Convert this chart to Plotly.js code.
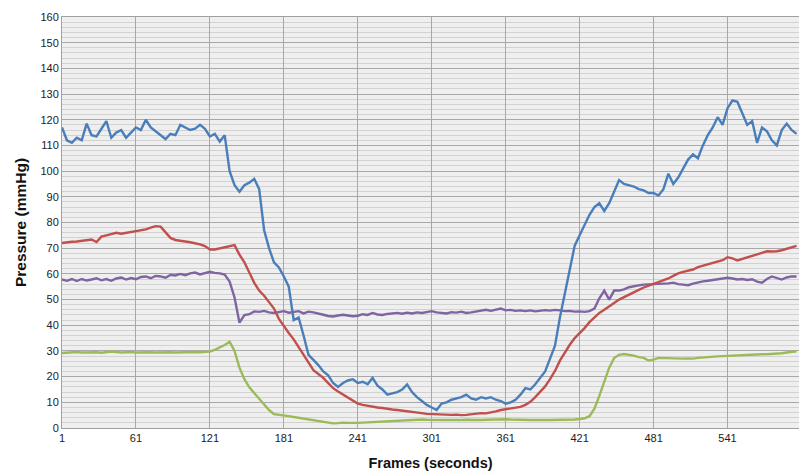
<!DOCTYPE html>
<html>
<head>
<meta charset="utf-8">
<script src="https://cdn.plot.ly/plotly-3.0.1.min.js"></script>
<style>html,body{margin:0;padding:0;background:#fff;}#chart{width:799px;height:473px;}</style>
</head>
<body>
<div id="chart"></div>
<script>
// Frame numbers (every 4th frame, 1..597)
const frames = [1,5,9,13,17,21,25,29,33,37,41,45,49,53,57,61,65,69,73,77,81,85,89,93,97,101,105,109,113,117,121,125,129,133,137,141,145,149,153,157,161,165,169,173,177,181,185,189,193,197,201,205,209,213,217,221,225,229,233,237,241,245,249,253,257,261,265,269,273,277,281,285,289,293,297,301,305,309,313,317,321,325,329,333,337,341,345,349,353,357,361,365,369,373,377,381,385,389,393,397,401,405,409,413,417,421,425,429,433,437,441,445,449,453,457,461,465,469,473,477,481,485,489,493,497,501,505,509,513,517,521,525,529,533,537,541,545,549,553,557,561,565,569,573,577,581,585,589,593,597];

const blueSeries = [117,112,111,113,112,118.5,114,113.5,116.5,119.5,113,115,116,113,115,117,116,120,117,115.5,114,112.5,114.5,114,118,117,116,116.5,118,116.5,113.5,114.5,111.5,114,100,94.5,92,94.5,95.5,97,93,77,70,64.5,62.5,59,55,42,43,36,28.5,26.5,24.5,22,20.5,17.5,16,17.5,18.5,19,17.5,18,17,19.5,16.5,15,13,13.5,14,15,17,14,12,10.5,9,8,7,9.5,10,11,11.5,12,13,11.5,11,12,11.5,12,11,10.5,9.5,10,11,13,15.5,15,17,19.5,22,27,32,43,52,62,71,75,79,83,86,87.5,84.5,87.5,92,96.5,95,94.5,94,93,92.5,91.5,91.5,90.5,93,99,95,97.5,101,104.5,106.5,105,110,114,117,121,118,124.5,127.5,127,122.5,118,119.5,111,117,115.5,112,110,116,118.5,116,114.5];

const redSeries = [72,72.3,72.5,72.6,72.8,73.2,73.4,72.4,74.5,75,75.5,76,75.6,76,76.3,76.6,77,77.3,78,78.6,78.4,76,74,73.2,72.8,72.6,72.3,72,71.5,70.8,69.5,69.5,70,70.3,70.8,71.2,67.5,64.5,60.5,56.5,53.5,51.5,49,46.5,42.5,39.5,37,34.5,31.5,28.5,25,22.5,21,19.5,17.5,15.5,14.2,13,11.6,10.5,9.5,9,8.6,8.3,8,7.8,7.4,7.2,7,6.8,6.5,6.3,6,5.8,5.5,5.4,5.3,5.2,5.3,5.1,5.2,5,5.1,5.4,5.7,5.8,5.7,6,6.5,7,7.3,7.6,7.7,8.2,9,10.2,12,14.2,16.2,19,22.2,26.2,29.5,32.4,35,36.8,38.9,41.2,43.2,44.8,46,47.5,48.7,50,51,52.1,53,53.8,54.7,55.4,55.9,56.6,57.3,58.2,59.2,60.2,60.8,61.2,61.7,62.6,63.2,63.7,64.2,64.7,65.3,66.5,66,65.2,65.8,66.3,66.8,67.3,68.2,68.8,68.7,68.8,69.2,69.8,70.3,70.9];

const purpleSeries = [57.8,57.3,58,57.2,58,57.4,57.8,58.3,57.5,58,57.3,58.2,58.6,57.8,58.4,57.9,58.8,59,58.3,59.2,59,58.5,59.6,59.4,60,59.5,60.2,60.5,59.8,60.2,60.8,60.4,60.2,59.7,57,50.8,41,44,44.3,45.4,45.2,45.6,45,44.8,45.3,45.5,44.9,45.1,45.5,44.6,45.3,45,44.4,44.1,43.6,43.4,43.8,44.1,43.8,43.5,43.7,44.3,44,44.8,44.2,44,44.4,44.6,44.8,44.5,44.9,44.6,45,44.8,45.2,45.5,45,44.7,44.6,45.1,44.9,45.3,44.8,45,45.4,45.8,46,45.6,46.2,46.5,45.8,46,45.6,45.8,45.5,45.8,45.4,45.6,45.9,45.7,46,45.8,45.5,45.6,45.3,45.4,45.2,45.5,46.5,50.5,53.5,50,53.5,53.5,54,54.8,55.3,55.5,55.8,55.9,55.8,55.9,56,56.3,56.6,56,55.8,55.6,56.2,56.8,57.1,57.3,57.6,58,58.3,58.5,58.2,57.8,58,57.6,57.9,57,56.6,58,59,58.5,57.8,58.6,59,59];

const greenSeries = [29.2,29.4,29.5,29.6,29.4,29.5,29.6,29.5,29.3,29.5,29.8,29.6,29.4,29.5,29.6,29.4,29.5,29.6,29.5,29.4,29.5,29.6,29.5,29.4,29.5,29.4,29.5,29.6,29.5,29.6,29.8,30.4,31.3,32.3,33.6,30,23.5,19,15.8,13.5,11.2,9.2,7,5.4,5.2,5,4.6,4.3,4,3.7,3.3,3,2.7,2.4,2,1.8,1.9,2.1,2,1.9,2,2.1,2.2,2.3,2.4,2.5,2.6,2.8,2.9,3,3.1,3.3,3.4,3.3,3.2,3.1,3.2,3.1,3.1,3,3.1,3.1,3.2,3.1,3.1,3.1,3.2,3.3,3.2,3.3,3.4,3.3,3.2,3.1,3.1,3.1,3.1,3.2,3.1,3.1,3.1,3.1,3.2,3.2,3.3,3.5,3.8,4.6,7.5,12.5,18,23.5,27.2,28.5,28.8,28.6,28.2,27.6,27.3,26.3,26.6,27.3,27.2,27.1,27.2,27.1,27,27.1,27,27.3,27.5,27.7,27.8,27.9,28,28.1,28.2,28.3,28.4,28.5,28.7,28.6,28.7,28.7,28.8,28.9,29.1,29.4,29.7,29.9];

const xTickVals = [1,61,121,181,241,301,361,421,481,541];
const xTickText = ['1','61','121','181','241','301','361','421','481','541'];

const mk = (y, color) => ({
  x: frames, y: y, type: 'scatter', mode: 'lines',
  line: {color: color, width: 2.4}, hoverinfo: 'skip', showlegend: false
});

const data = [
  mk(greenSeries, '#9BBB59'),
  mk(purpleSeries, '#8064A2'),
  mk(redSeries, '#C0504D'),
  mk(blueSeries, '#4A7EBB')
];

const layout = {
  width: 799, height: 473,
  margin: {l: 62, r: 0, t: 17, b: 45},
  paper_bgcolor: '#ffffff',
  plot_bgcolor: '#efefef',
  font: {family: 'Liberation Sans, Arial, sans-serif', color: '#404040', size: 11},
  xaxis: {
    range: [1, 599],
    tickmode: 'array', tickvals: xTickVals, ticktext: xTickText,
    showgrid: true, gridcolor: '#a8a8a8', gridwidth: 1,
    showline: true, linecolor: '#a0a0a0', linewidth: 1, mirror: true,
    ticks: '', zeroline: false, automargin: false,
    tickfont: {size: 11, color: '#222222'},
    title: {text: 'Frames (seconds)', font: {size: 14.5, color: '#111111', weight: 'bold'}, standoff: 14}
  },
  yaxis: {
    range: [0, 160],
    tickmode: 'linear', tick0: 0, dtick: 10,
    showgrid: true, gridcolor: '#a8a8a8', gridwidth: 1,
    minor: {dtick: 2, showgrid: true, gridcolor: '#d2d2d2', gridwidth: 1},
    showline: true, linecolor: '#a0a0a0', linewidth: 1,
    ticks: '', zeroline: false, automargin: false,
    tickfont: {size: 11, color: '#222222'},
    title: {text: 'Pressure (mmHg)', font: {size: 15.5, color: '#111111', weight: 'bold'}, standoff: 10}
  }
};

Plotly.newPlot('chart', data, layout, {staticPlot: true, displayModeBar: false});
</script>
</body>
</html>
